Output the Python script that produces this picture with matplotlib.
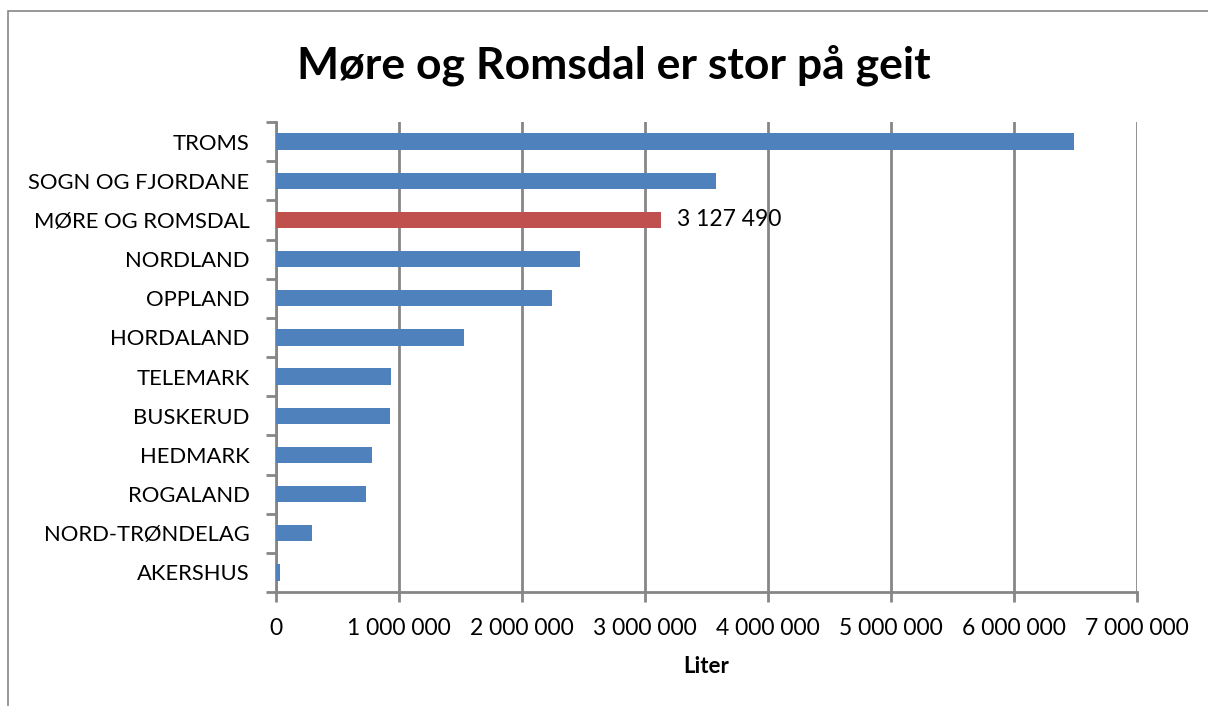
import matplotlib
matplotlib.use("Agg")
import matplotlib.pyplot as plt
from matplotlib.patches import Rectangle
from matplotlib.ticker import FuncFormatter, MultipleLocator

plt.rcParams['font.family'] = ['Lato', 'DejaVu Sans']

fylker = ["TROMS", "SOGN OG FJORDANE", "MØRE OG ROMSDAL", "NORDLAND", "OPPLAND",
          "HORDALAND", "TELEMARK", "BUSKERUD", "HEDMARK", "ROGALAND",
          "NORD-TRØNDELAG", "AKERSHUS"]
liter = [6490000, 3580000, 3127490, 2470000, 2240000, 1530000,
         935000, 927000, 780000, 730000, 290000, 30000]
uthevet = "MØRE OG ROMSDAL"

blue = "#4f81bd"
red = "#c0504d"
grey = "#868686"

fig = plt.figure(figsize=(12.08, 7.06), dpi=100)
ax = fig.add_axes([276/1208, 1-592/706, (1137-276)/1208, (592-122)/706])

# ramme rundt hele diagrammet
fig.patches.append(Rectangle((8/1208, -0.01), 1.01, 1-11/706+0.01, transform=fig.transFigure,
                             fill=False, edgecolor=grey, linewidth=1.2))

ypos = list(range(len(fylker)))[::-1]
colors = [red if f == uthevet else blue for f in fylker]
ax.barh(ypos, liter, height=0.42, color=colors, zorder=3)

for y, v, f in zip(ypos, liter, fylker):
    if f == uthevet:
        ax.text(v + 130000, y, f"{v:,}".replace(",", " "), va="center", ha="left",
                fontsize=16.5, zorder=4)

ax.set_xlim(0, 7000000)
ax.set_ylim(-0.5, len(fylker) - 0.5)
ax.xaxis.set_major_locator(MultipleLocator(1000000))
ax.xaxis.set_major_formatter(FuncFormatter(lambda x, p: f"{int(x):,}".replace(",", " ")))
ax.set_yticks(ypos)
ax.set_yticklabels(fylker)
ax.set_yticks([y + 0.5 for y in range(-1, len(fylker))], minor=True)

ax.grid(axis="x", color=grey, linewidth=2, zorder=0)
for s in ["top", "right"]:
    ax.spines[s].set_visible(False)
for s in ["left", "bottom"]:
    ax.spines[s].set_color(grey)
    ax.spines[s].set_linewidth(2)

ax.tick_params(axis="y", which="major", length=0, pad=19, labelsize=15.8)
ax.tick_params(axis="y", which="minor", length=7, width=2, color=grey)
ax.tick_params(axis="x", length=7, width=2, color=grey, labelsize=16.5, pad=12)

ax.set_xlabel("Liter", fontsize=16, fontweight="bold", labelpad=12)
fig.text(614/1208, 1-65/706, "Møre og Romsdal er stor på geit", ha="center", va="center",
         fontsize=32, fontweight="bold")

fig.savefig("out.png", dpi=100)
